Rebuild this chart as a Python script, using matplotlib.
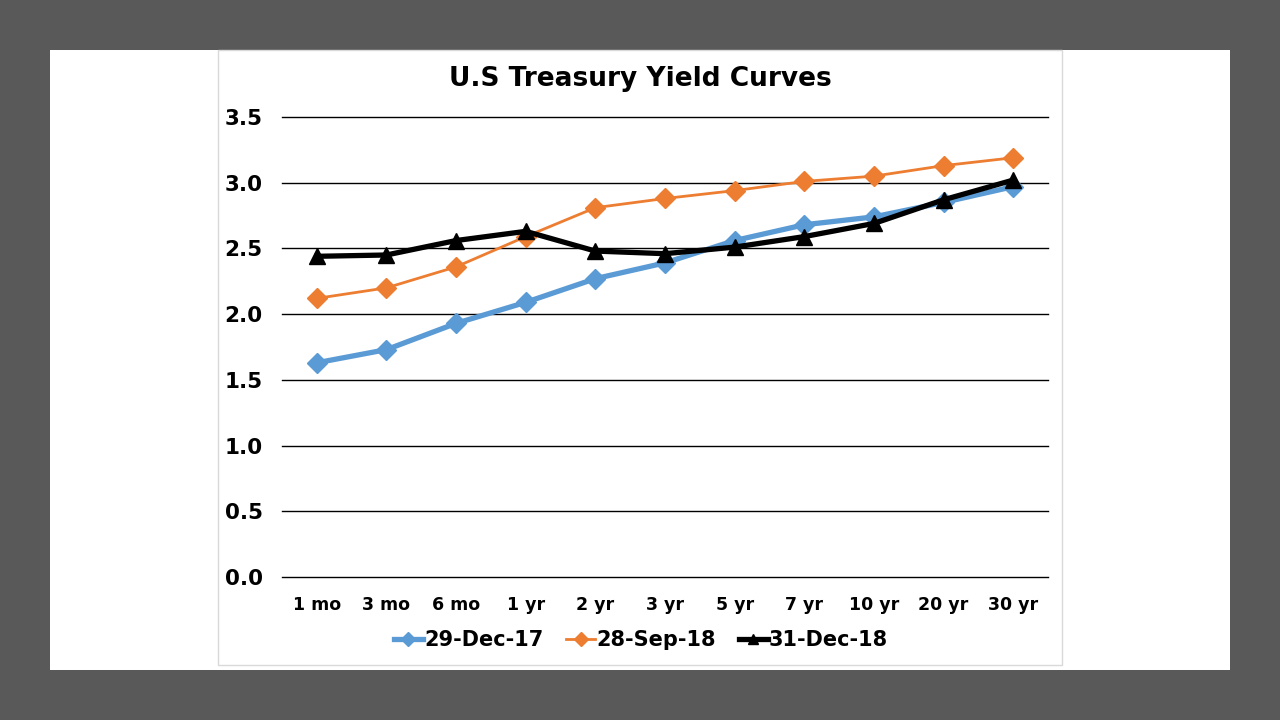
import matplotlib
matplotlib.use("Agg")
import matplotlib.pyplot as plt
from matplotlib.patches import Rectangle
from matplotlib.font_manager import FontProperties

categories = ["1 mo", "3 mo", "6 mo", "1 yr", "2 yr", "3 yr", "5 yr", "7 yr", "10 yr", "20 yr", "30 yr"]
dec17 = [1.63, 1.73, 1.93, 2.09, 2.27, 2.39, 2.56, 2.68, 2.74, 2.85, 2.97]
sep18 = [2.12, 2.20, 2.36, 2.59, 2.81, 2.88, 2.94, 3.01, 3.05, 3.13, 3.19]
dec18 = [2.44, 2.45, 2.56, 2.63, 2.48, 2.46, 2.51, 2.59, 2.69, 2.87, 3.02]
series_names = ["29-Dec-17", "28-Sep-18", "31-Dec-18"]
yticks = [0.0, 0.5, 1.0, 1.5, 2.0, 2.5, 3.0, 3.5]

W, H = 1280, 720
fig = plt.figure(figsize=(12.8, 7.2), dpi=100, facecolor="#595959")
fig.patches.append(Rectangle((50 / W, 1 - 670 / H), 1180 / W, 620 / H, transform=fig.transFigure,
                             facecolor="white", edgecolor="none", zorder=-2))
fig.patches.append(Rectangle((218 / W, 1 - 665 / H), 844 / W, 615 / H, transform=fig.transFigure,
                             facecolor="white", edgecolor="#D9D9D9", lw=1, zorder=-1))

ax = fig.add_axes([282 / W, 1 - 577 / H, (1048 - 282) / W, (577 - 117) / H])
ax.set_facecolor("none")
x = list(range(len(categories)))
ax.plot(x, dec17, color="#5B9BD5", lw=3.8, marker="D", ms=10, label=series_names[0], zorder=3)
ax.plot(x, sep18, color="#ED7D31", lw=2.0, marker="D", ms=10, label=series_names[1], zorder=3)
ax.plot(x, dec18, color="black", lw=3.8, marker="^", ms=12, label=series_names[2], zorder=4)

ax.set_xlim(-0.5, len(categories) - 0.5)
ax.set_ylim(0, 3.5)
ax.set_yticks(yticks)
ax.set_yticklabels([f"{v:.1f}" for v in yticks], fontsize=15.5, fontweight="bold", family="DejaVu Sans")
ax.set_xticks(x)
ax.set_xticklabels(categories, fontsize=12.5, fontweight="bold", family="DejaVu Sans")
ax.tick_params(axis="both", length=0)
ax.tick_params(axis="y", pad=14)
ax.tick_params(axis="x", pad=14)
ax.yaxis.grid(True, color="black", lw=1)
for gl in ax.get_ygridlines():
    gl.set_clip_on(False)
ax.set_axisbelow(True)
for s in ax.spines.values():
    s.set_visible(False)

fig.text(640 / W, 1 - 79 / H, "U.S Treasury Yield Curves", ha="center", va="center",
         fontsize=19, fontweight="bold", family="DejaVu Sans")

leg = fig.legend(loc="center", bbox_to_anchor=(641 / W, 1 - 640 / H), ncol=3, frameon=False,
                 handlelength=1.4, handletextpad=0.05, columnspacing=1.1,
                 prop=FontProperties(size=15, family="DejaVu Sans", weight="bold"))
for h in leg.legend_handles:
    h.set_markersize(7)

fig.savefig("out.png", dpi=100, facecolor=fig.get_facecolor())
